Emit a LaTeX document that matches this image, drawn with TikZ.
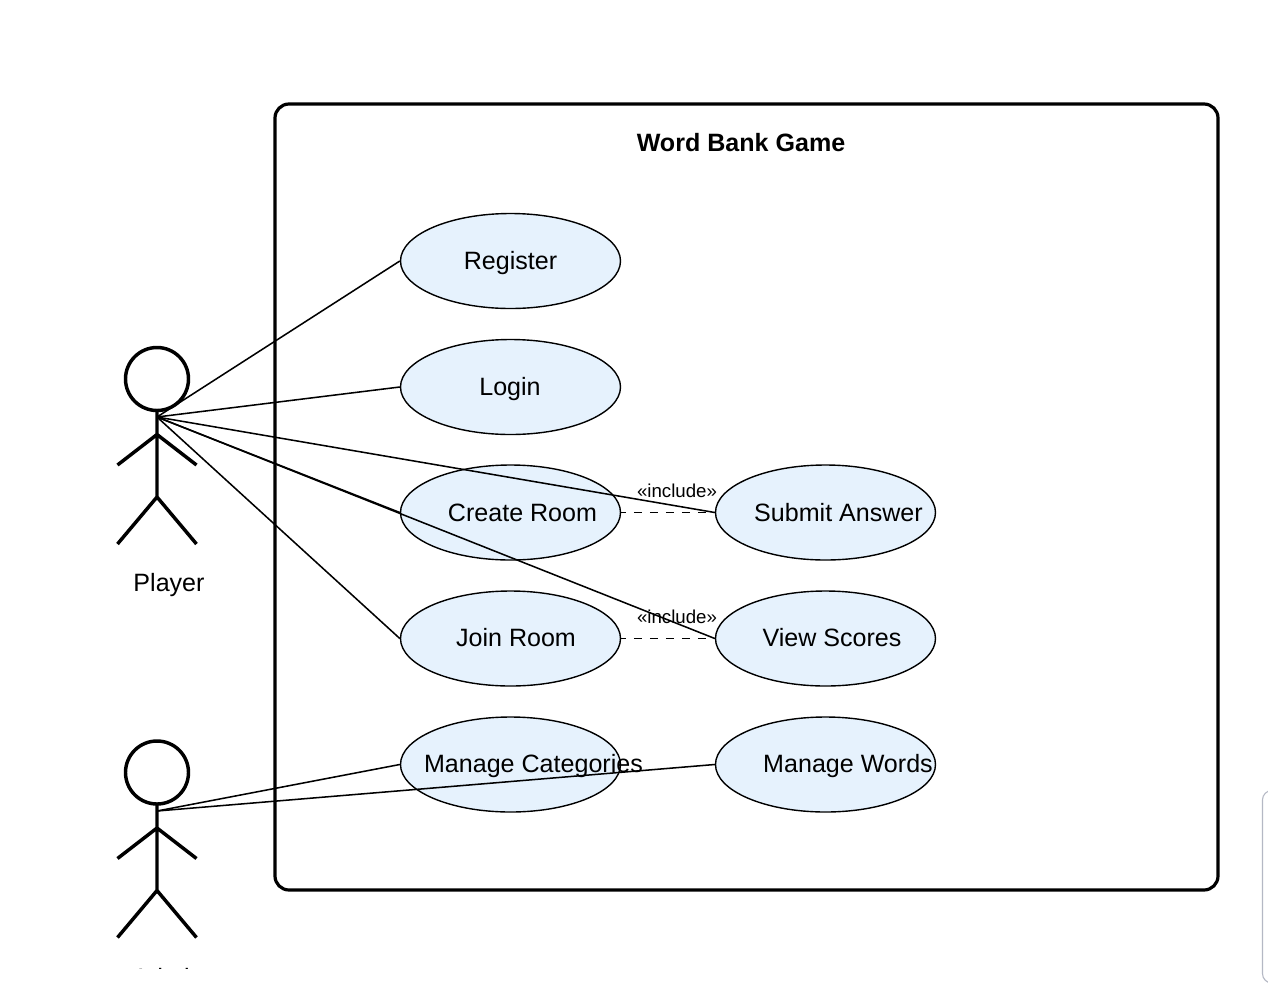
\documentclass[tikz,border=0pt]{standalone}
\usepackage{fontspec}
\setmainfont{Liberation Sans}
\usetikzlibrary{shapes.geometric}
\definecolor{ucfill}{HTML}{E6F2FD}
\definecolor{panelgray}{HTML}{B4B8C4}
\tikzset{
  x=0.75pt,y=-0.75pt,
  usecase/.style={ellipse,draw=black,fill=ucfill,line width=1.05pt,minimum width=165pt,minimum height=71.25pt,inner sep=0pt},
  uclabel/.style={inner sep=0pt,font=\fontsize{18.8pt}{23pt}\selectfont,text=black,anchor=base},
  smalllabel/.style={inner sep=0pt,font=\fontsize{14pt}{17pt}\selectfont,text=black,anchor=base},
  assoc/.style={draw=black,line width=1.15pt},
  incl/.style={draw=black,line width=1.35pt,dash pattern=on 6pt off 6pt,dash phase=2.5pt},
  stick/.style={draw=black,line width=2.6pt},
  sysbox/.style={draw=black,line width=2.4pt,rounded corners=10.5pt}
}
\begin{document}
\begin{tikzpicture}
\useasboundingbox (0,0) rectangle (1268,986);
\fill[white] (0,0) rectangle (1268,986);
% system box
\draw[sysbox] (275,104) rectangle (1218,890);
\node[uclabel,font=\fontsize{18.8pt}{23pt}\selectfont\bfseries] (title) at (741,151) {Word Bank Game};
% side panel
\draw[panelgray,line width=0.8pt,rounded corners=7pt] (1275,790.5) -- (1262.5,790.5) -- (1262.5,983) -- (1275,983);
% use cases
\node[usecase] (reg) at (510.5,261) {};
\node[usecase] (log) at (510.5,387) {};
\node[usecase] (cre) at (510.5,512.5) {};
\node[usecase] (joi) at (510.5,638.5) {};
\node[usecase] (cat) at (510.5,764.5) {};
\node[usecase] (sub) at (825.5,512.5) {};
\node[usecase] (vie) at (825.5,638.5) {};
\node[usecase] (wor) at (825.5,764.5) {};
% actors
\draw[stick] (157,379) circle (31.5);
\draw[stick] (157,410.5) -- (157,497) (117.5,465) -- (157,434.5) -- (196.5,465) (117.5,544) -- (157,497) -- (196.5,544);
\draw[stick] (157,772.5) circle (31.5);
\draw[stick] (157,804) -- (157,890.5) (117.5,858.5) -- (157,828) -- (196.5,858.5) (117.5,937.5) -- (157,890.5) -- (196.5,937.5);
\coordinate (player) at (157,417);
\coordinate (admin) at (157,811);
% connectors
\draw[assoc] (player) -- (reg.west);
\draw[assoc] (player) -- (log.west);
\draw[assoc] (player) -- (cre.west);
\draw[assoc] (player) -- (joi.west);
\draw[assoc] (player) -- (sub.west);
\draw[assoc] (player) -- (vie.west);
\draw[assoc] (admin) -- (cat.west);
\draw[assoc] (admin) -- (wor.west);
\draw[incl] (cre.east) -- (sub.west);
\draw[incl] (joi.east) -- (vie.west);
% labels
\node[uclabel] (regt) at (510.5,269) {Register};
\node[uclabel] (logt) at (510,395) {Login};
\node[uclabel] (cret) at (522.5,521) {Create Room};
\node[uclabel] (joit) at (516,646) {Join Room};
\node[uclabel] (catt) at (533.5,772) {Manage Categories};
\node[uclabel] (subt) at (838.5,521) {Submit Answer};
\node[uclabel] (viet) at (832,646) {View Scores};
\node[uclabel] (wort) at (848,772) {Manage Words};
\node[smalllabel] (inc1) at (677,497) {«include»};
\node[smalllabel] (inc2) at (677,623) {«include»};
\node[uclabel] (pl) at (169,591) {Player};
\begin{scope}
\clip (100,940) rectangle (240,968.5);
\node[uclabel] (ad) at (168,986.5) {Admin};
\end{scope}
\end{tikzpicture}
\end{document}
